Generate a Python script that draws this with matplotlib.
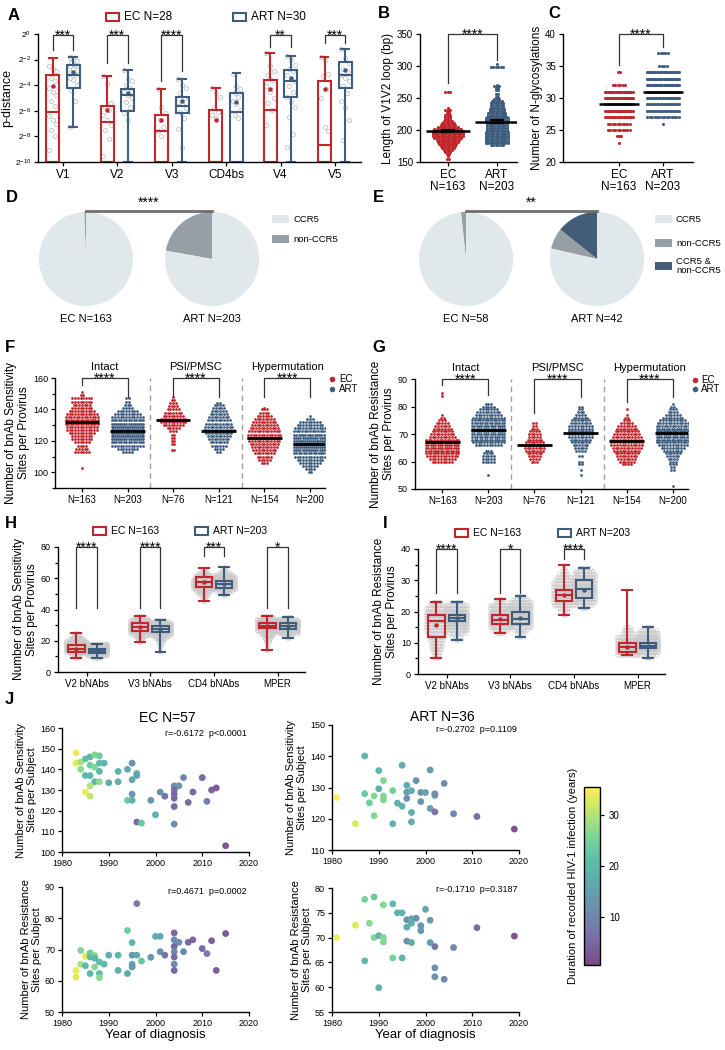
import numpy as np
import matplotlib
matplotlib.use('Agg')
import matplotlib.pyplot as plt
from matplotlib.patches import Rectangle
from matplotlib.lines import Line2D
from matplotlib.colors import ListedColormap, Normalize
from matplotlib.cm import ScalarMappable
from matplotlib.ticker import MultipleLocator, NullLocator

plt.rcParams['font.family'] = ['Liberation Sans', 'DejaVu Sans']
NARROW = ['Liberation Sans Narrow', 'Liberation Sans', 'DejaVu Sans']

EC_RED = '#c0262c'
ART_BLUE = '#3e5d7e'
GREY_PT = '#c9c9c9'

# ---------------- data ----------------
# A: p-distance, stored as log2 exponents
a_regions = ['V1', 'V2', 'V3', 'CD4bs', 'V4', 'V5']
a_ec_lo = [-10, -10, -10, -10, -10, -10]
a_ec_q1 = [-10, -10, -10, -10, -10, -10]
a_ec_med = [-6.1, -6.9, -7.6, -10, -5.9, -8.7]
a_ec_q3 = [-3.2, -5.6, -6.3, -5.9, -3.6, -3.7]
a_ec_hi = [-1.9, -3.25, -4.3, -4.2, -1.5, -1.8]
a_ec_mean = [-4.1, -5.9, -6.7, -6.7, -4.3, -4.3]
a_art_lo = [-7.3, -10, -10, -10, -10, -10]
a_art_q1 = [-4.2, -6.0, -6.15, -10, -4.95, -4.2]
a_art_med = [-3.2, -4.8, -5.6, -6.1, -3.7, -3.2]
a_art_q3 = [-2.4, -4.3, -4.9, -4.6, -2.85, -2.2]
a_art_hi = [-1.8, -2.8, -3.5, -3.06, -1.75, -1.2]
a_art_mean = [-3.0, -4.6, -5.2, -5.3, -3.4, -2.8]
a_ec_pts = [
    [-2.5, -2.7, -2.9, -3.4, -3.7, -4.2, -4.5, -4.8, -5.2, -5.6, -6.4, -6.7, -7.0, -7.5, -8.0, -9.1],
    [-3.25, -3.85, -5.4, -5.7, -5.9, -6.3, -6.7, -7.1, -7.5, -8.2, -9.5],
    [-4.3, -5.7, -6.2, -6.7, -7.3, -7.6, -8.0],
    [-4.2, -4.6, -4.9, -5.7, -6.1, -6.3, -6.6],
    [-1.5, -2.5, -2.9, -3.2, -3.6, -4.1, -4.5, -5.0, -5.4, -5.9, -7.1],
    [-1.8, -2.0, -3.1, -3.3, -4.3, -5.0, -7.3, -7.6],
]
a_art_pts = [
    [-1.8, -2.0, -2.1, -2.2, -2.4, -2.5, -2.7, -2.8, -3.0, -3.2, -3.4, -3.6, -4.0, -4.4, -5.2, -7.3],
    [-2.8, -3.5, -3.7, -4.0, -4.2, -4.5, -4.8, -5.0, -5.3, -5.7, -6.2, -6.7],
    [-3.5, -4.0, -4.2, -4.6, -5.0, -5.3, -5.5, -5.8, -6.1, -6.6, -7.4, -8.8],
    [-3.1, -4.1, -4.3, -4.6, -4.9, -5.2, -5.5, -5.9, -6.3, -6.6],
    [-1.75, -2.0, -2.4, -2.7, -2.9, -3.2, -3.5, -3.7, -4.1, -4.5, -4.9, -5.3, -5.7, -6.5, -7.8, -8.8],
    [-1.2, -1.9, -2.3, -2.7, -2.9, -3.2, -3.4, -3.7, -4.1, -4.6, -5.2, -5.7, -6.7, -8.3],
]
a_stars = ['***', '***', '****', '', '**', '***']
a_leg_ec = [-1.23, -2.3, -3.7, None, -1.0, -0.7]
a_leg_art = [-1.23, -2.3, -2.9, None, -1.0, -0.7]

# B: V1V2 length
b_ec_lv = [154, 160, 163, 166, 169, 172, 175, 178, 181, 184, 187, 190, 193, 196, 199, 202,
           205, 208, 211, 214, 217, 220, 223, 226, 229, 232, 235, 259]
b_ec_n = [2, 1, 2, 3, 4, 6, 7, 8, 9, 10, 12, 13, 13, 14, 14, 12, 9, 7, 6, 4, 3, 3, 3, 2, 2, 3, 1, 3]
b_art_lv = [176, 179, 182, 185, 188, 191, 194, 197, 200, 203, 206, 209, 212, 215, 218, 221, 224,
            227, 230, 233, 236, 239, 242, 245, 248, 251, 256, 262, 265, 268, 271, 298, 303]
b_art_n = [6, 10, 10, 10, 10, 10, 10, 10, 9, 9, 9, 9, 10, 10, 10, 9, 8, 8, 7, 7, 6, 6, 6, 5,
           3, 2, 2, 2, 2, 3, 1, 6, 1]
b_mean = [198, 213]
b_sem = [1.6, 2.0]

# C: N-glycosylations
c_ec_lv = [23, 24, 25, 26, 27, 28, 29, 30, 31, 32, 34]
c_ec_n = [1, 3, 10, 10, 20, 25, 25, 30, 25, 6, 2]
c_art_lv = [26, 27, 28, 29, 30, 31, 32, 33, 34, 35, 37]
c_art_n = [1, 14, 17, 18, 25, 28, 30, 30, 24, 4, 5]
c_mean = [29, 31]

# D / E: coreceptor usage (order: dual, non-CCR5, CCR5)
d_ec = [0, 1, 162]
d_art = [0, 45, 158]
e_ec = [0, 1, 57]
e_art = [6, 3, 33]
pie_colors = ['#435d78', '#969fa5', '#e1e8eb']

# F: sensitivity sites per provirus
f_ticks = ['N=163', 'N=203', 'N=76', 'N=121', 'N=154', 'N=200']
f_lv = [
    [103, 113, 115, 117, 119, 121, 123, 125, 127, 129, 131, 133, 135, 137, 139, 141, 143, 145, 147, 149, 151],
    [113, 115, 117, 119, 121, 123, 125, 127, 129, 131, 133, 135, 137, 139, 141, 143, 145, 147],
    [114, 118, 120, 122, 124, 126, 128, 130, 132, 134, 136, 138, 140, 142, 144, 146, 148],
    [113, 115, 117, 119, 121, 123, 125, 127, 129, 131, 133, 135, 137, 139, 141, 143, 144],
    [106, 108, 110, 112, 114, 116, 118, 120, 122, 124, 126, 128, 130, 132, 134, 136, 138, 140, 141],
    [100, 102, 104, 106, 108, 110, 112, 114, 116, 118, 120, 122, 124, 126, 128, 130, 132, 134, 136],
]
f_n = [
    [1, 6, 5, 4, 6, 8, 8, 10, 12, 12, 14, 14, 13, 12, 10, 8, 7, 8, 8, 2, 1],
    [4, 8, 12, 14, 16, 18, 20, 20, 18, 16, 14, 12, 10, 8, 4, 3, 2, 2],
    [2, 2, 2, 2, 2, 3, 5, 8, 10, 10, 8, 7, 5, 4, 3, 2, 1],
    [2, 4, 6, 7, 8, 9, 10, 12, 11, 10, 9, 8, 7, 6, 5, 4, 2],
    [3, 5, 6, 8, 9, 10, 11, 12, 13, 13, 12, 11, 10, 9, 8, 6, 4, 3, 1],
    [2, 4, 6, 8, 10, 12, 14, 16, 17, 18, 18, 16, 15, 13, 12, 10, 8, 3, 1],
]
f_mean = [132, 126, 133.5, 126.5, 122, 118]

# G: resistance sites per provirus
g_lv = [
    [60, 61, 62, 63, 64, 65, 66, 67, 68, 69, 70, 71, 72, 73, 74, 75, 76, 77, 84, 85],
    [55, 60, 61, 62, 63, 64, 66, 67, 68, 69, 70, 71, 72, 73, 74, 75, 76, 77, 78, 79, 80, 81],
    [60, 61, 62, 63, 64, 65, 66, 67, 68, 69, 70, 71, 72, 73, 74],
    [55, 57, 59, 60, 62, 64, 65, 66, 67, 68, 69, 70, 71, 72, 73, 74, 75, 76, 77, 78, 79, 80],
    [59, 60, 61, 62, 63, 64, 65, 66, 67, 68, 69, 70, 71, 72, 73, 74, 75, 76, 77, 79],
    [51, 57, 58, 59, 60, 61, 62, 63, 64, 65, 66, 67, 68, 69, 70, 71, 72, 73, 74, 75, 76, 77,
     78, 79, 80, 81],
]
g_n = [
    [8, 10, 12, 14, 14, 15, 15, 14, 13, 10, 9, 8, 7, 6, 5, 3, 2, 1, 1, 1],
    [1, 5, 5, 5, 4, 3, 10, 12, 14, 14, 15, 15, 15, 15, 14, 13, 12, 10, 9, 7, 5, 3],
    [3, 4, 5, 6, 7, 8, 9, 7, 6, 5, 5, 4, 3, 2, 2],
    [1, 1, 2, 2, 2, 4, 5, 6, 7, 8, 9, 9, 9, 9, 9, 8, 7, 6, 4, 3, 2, 2],
    [4, 6, 7, 8, 9, 10, 11, 12, 12, 12, 11, 10, 9, 8, 7, 5, 3, 2, 1, 1],
    [1, 2, 2, 3, 3, 4, 5, 6, 7, 9, 11, 13, 14, 15, 15, 15, 14, 13, 12, 10, 8, 6, 4, 3, 2, 1],
]
g_mean = [67, 71.3, 66, 70.3, 67.5, 70.2]

# H / I: box summaries per bnAb class
hi_groups = ['V2 bNAbs', 'V3 bNAbs', 'CD4 bNAbs', 'MPER']
h_ec_lo = [9, 19, 45.6, 14]
h_ec_q1 = [13, 26.4, 54.6, 28]
h_ec_med = [15, 29, 57.8, 29.7]
h_ec_q3 = [17.5, 31.1, 61, 31.6]
h_ec_hi = [25, 36, 66.3, 36]
h_ec_mean = [15, 28.5, 57.5, 29.5]
h_art_lo = [9, 13, 49.3, 21.6]
h_art_q1 = [12, 25.8, 54, 27.7]
h_art_med = [13.5, 27.8, 56.6, 29.5]
h_art_q3 = [15, 29.4, 58.4, 31.1]
h_art_hi = [18, 33.3, 67, 35]
h_art_mean = [13.5, 27.5, 56.5, 29.3]
h_ec_start = [9, 19, 45, 14]
h_ec_cloud = [
    [2, 3, 5, 8, 12, 15, 18, 20, 18, 16, 13, 10, 8, 6, 4, 3, 2],
    [1, 2, 3, 4, 6, 8, 10, 12, 14, 16, 16, 15, 14, 12, 10, 8, 6, 4],
    [1, 2, 2, 3, 4, 5, 6, 8, 10, 12, 14, 14, 13, 12, 11, 10, 9, 8, 6, 4, 3, 2],
    [1, 1, 1, 1, 1, 2, 2, 3, 3, 4, 6, 8, 10, 12, 14, 16, 16, 15, 14, 12, 10, 6, 4],
]
h_art_start = [9, 13, 49, 22]
h_art_cloud = [
    [4, 8, 14, 20, 26, 30, 30, 28, 25, 18],
    [1, 0, 1, 1, 1, 2, 2, 3, 4, 6, 8, 12, 16, 20, 24, 26, 24, 20, 16, 10, 6],
    [2, 3, 5, 8, 12, 16, 20, 22, 22, 20, 18, 15, 12, 9, 7, 5, 3, 2, 1],
    [2, 4, 6, 10, 14, 18, 22, 26, 28, 24, 20, 14, 8, 4],
]
h_stars = ['****', '****', '***', '*']
h_leg = [41, 41, 74, 41]

i_ec_lo = [5, 13, 19, 6]
i_ec_q1 = [12, 16, 23.5, 7.1]
i_ec_med = [17, 17.3, 25.2, 8.7]
i_ec_q3 = [19, 19, 26.9, 9.8]
i_ec_hi = [23, 24, 35, 27]
i_ec_mean = [15.6, 17.5, 25.3, 8.7]
i_art_lo = [11, 12, 21, 5]
i_art_q1 = [17, 16, 24.2, 8.2]
i_art_med = [18, 17.6, 27.3, 9]
i_art_q3 = [19, 19.7, 30, 9.8]
i_art_hi = [23, 25, 34, 15]
i_art_mean = [18, 17.8, 26.8, 9]
i_ec_start = [5, 13, 19, 6]
i_ec_cloud = [
    [2, 3, 4, 5, 6, 6, 7, 8, 9, 10, 11, 12, 13, 14, 15, 14, 12, 8, 4],
    [4, 8, 12, 16, 20, 24, 24, 20, 15, 10, 6, 3],
    [2, 4, 6, 10, 14, 17, 19, 20, 18, 15, 12, 9, 7, 5, 3, 2, 1],
    [10, 20, 28, 32, 28, 20, 12, 6, 4, 3],
]
i_art_start = [11, 12, 21, 5]
i_art_cloud = [
    [3, 5, 8, 12, 16, 20, 26, 30, 28, 22, 15, 10, 6],
    [2, 4, 7, 11, 15, 20, 25, 28, 26, 22, 17, 12, 8, 4],
    [4, 8, 12, 16, 18, 20, 22, 22, 20, 18, 15, 12, 9, 6],
    [3, 8, 15, 25, 35, 38, 32, 22, 14, 8, 3],
]
i_stars = ['****', '*', '****', '']
i_leg = [26, 26, 36.8, None]

# J: per-subject sites vs year of diagnosis, colour = duration (years)
ec_sens_year = [1983, 1983, 1984, 1984, 1985, 1986, 1986, 1987, 1988, 1987, 1988, 1985, 1986, 1987,
                1988, 1986, 1985, 1986, 1989, 1988, 1990, 1992, 1992, 1994, 1995, 1995, 1996, 1996,
                1995, 1994, 1995, 1999, 2001, 2002, 2000, 2004, 2005, 2004, 2004, 2004, 2004, 2006,
                2007, 2008, 2010, 2011, 2012, 2013, 1996, 1997, 2004, 2015]
ec_sens_val = [148, 143, 143.5, 140, 145, 146, 142, 147, 146.5, 141, 139, 137, 137, 134, 134, 132,
               129, 127, 143, 143, 133.5, 139, 134, 140, 143, 135, 138, 137, 128, 125, 125, 125,
               129, 127, 118, 132, 132, 130, 128, 126, 122, 136, 124, 129, 136, 124.5, 130, 131,
               114.5, 114, 113.5, 103]
ec_sens_dur = [34, 33, 29, 27, 22, 20, 24, 26, 24, 26, 20, 20, 20, 19, 27, 30, 34, 31, 20, 20, 17,
               19, 18, 17, 13, 17, 17, 16, 13, 24, 19, 13, 12, 7, 18, 11, 12, 5, 5, 5, 5, 10, 6, 5,
               5, 8, 4, 4, 6, 23, 11, 3]
ec_res_year = [1983, 1983, 1984, 1984, 1985, 1985, 1986, 1986, 1986, 1987, 1987, 1987, 1988, 1988,
               1988, 1989, 1990, 1992, 1992, 1994, 1994, 1995, 1995, 1995, 1995, 1996, 1996, 1997,
               1999, 2000, 2001, 2001, 2002, 2004, 2004, 2005, 2004, 2004, 2004, 2004, 2004, 2006,
               2007, 2008, 2010, 2011, 2012, 2013, 2015]
ec_res_val = [63.3, 61.2, 69.7, 65.3, 67.8, 64.8, 68.9, 67.6, 62.3, 68.1, 67.2, 64.4, 66, 62.3, 61,
              65.3, 68.2, 68.2, 63.3, 76.1, 62.3, 72.2, 68.2, 65.3, 64.4, 84.7, 68.2, 66.3, 67.5,
              74.2, 74.2, 69.3, 68.2, 75.3, 73.1, 72.3, 71, 69.3, 67.6, 65.3, 63.3, 69.3, 72.3,
              73.1, 70.3, 68.7, 72.8, 63.3, 75.1]
ec_res_dur = [34, 33, 26, 29, 34, 20, 24, 20, 20, 27, 19, 27, 20, 20, 27, 20, 17, 19, 18, 24, 17,
              19, 13, 17, 13, 8, 17, 23, 13, 18, 17, 12, 7, 5, 11, 12, 5, 11, 5, 11, 5, 10, 6, 5, 5,
              8, 4, 4, 3]
art_sens_year = [1987, 1990, 1995, 2001, 1991, 1998, 2004, 1996, 1990, 1993, 1987, 1989, 1991,
                 1991, 1988, 1994, 1995, 1996, 1999, 2000, 2002, 2002, 1996, 1999, 2001, 2002,
                 2006, 2011, 1989, 1997, 1985, 1993, 1997, 2019, 1981, 1997]
art_sens_val = [140.1, 135.4, 137.1, 135.6, 132.2, 132.2, 131.3, 130.7, 129.6, 129, 128, 127.3,
                127.3, 126, 125.1, 125, 124, 128.5, 128.4, 128.4, 128, 127.5, 126.5, 125.5, 123.3,
                122.2, 121.6, 120.7, 121, 122, 118.4, 118.4, 119, 116.7, 126.8, 129]
art_sens_dur = [20, 19, 18, 14, 26, 12, 11, 17, 19, 25, 23, 26, 26, 26, 24, 19, 19, 14, 12, 16, 12,
                12, 12, 13, 14, 7, 10, 6, 26, 18, 33, 19, 17, 2, 35, 17]
art_res_year = [1981, 1985, 1988, 1989, 1990, 1991, 1991, 1987, 1993, 1995, 1990, 1996, 1996, 1997,
                1996, 1997, 1997, 1998, 1999, 1999, 2001, 2001, 2002, 2002, 2002, 2004, 2006, 2011,
                2019, 1987, 1989, 1991, 1993, 1994, 1995, 2000]
art_res_val = [70, 72.5, 72.9, 70, 70.4, 70, 69.1, 65.3, 65.9, 65.9, 59.9, 72.1, 69.3, 69, 73.6,
               73.8, 72.9, 73.9, 72.4, 71.4, 73.5, 69, 68.2, 63.9, 62.1, 61.6, 68, 72, 70.3, 77.7,
               78.2, 76.6, 76.8, 75, 75, 75.7]
art_res_dur = [35, 33, 27, 26, 19, 26, 26, 20, 25, 19, 19, 17, 12, 17, 12, 17, 18, 12, 13, 13, 14,
               14, 7, 12, 12, 11, 10, 6, 2, 25, 23, 26, 20, 19, 19, 16]

# ---------------- figure ----------------
W, H = 725, 1050
fig = plt.figure(figsize=(7.25, 10.5), dpi=100)


def add_ax(l, t, r, b):
    return fig.add_axes([l / W, 1 - b / H, (r - l) / W, (b - t) / H])


def style(ax, ls=7):
    for s in ['top', 'right']:
        ax.spines[s].set_visible(False)
    for s in ['left', 'bottom']:
        ax.spines[s].set_linewidth(1)
    ax.tick_params(direction='out', length=3, width=0.9, labelsize=ls, pad=2)


def swarm(ax, x0, levels, counts, color, step, maxw, ms, hollow=False):
    xs, ys = [], []
    for lv, n in zip(levels, counts):
        if n <= 0:
            continue
        dx = min(step, maxw / max(n - 1, 1))
        xs.extend(x0 + (np.arange(n) - (n - 1) / 2) * dx)
        ys.extend([lv] * n)
    if hollow:
        ax.plot(xs, ys, 'o', ms=ms, mfc='none', mec=GREY_PT, mew=0.5, zorder=1)
    else:
        ax.plot(xs, ys, 'o', ms=ms, color=color, mec='none', zorder=2)


def bracket(ax, x1, x2, top, y1, y2, stars, fs=10):
    if y1 is None:
        return
    ax.plot([x1, x1, x2, x2], [y1, top, top, y2], color='#333333', lw=0.9,
            clip_on=False, zorder=4)
    ax.annotate(stars, xy=((x1 + x2) / 2, top), xytext=(0, -3.5), textcoords='offset points',
                ha='center', va='baseline', fontsize=fs, annotation_clip=False)


def leg_box(x, y, color, label, fs):
    fig.add_artist(Rectangle((x / W, 1 - (y + 4) / H), 13 / W, 8 / H, transform=fig.transFigure,
                             fill=False, edgecolor=color, lw=1.5))
    fig.text((x + 18) / W, 1 - y / H, label, fontsize=fs, va='center')


def boxes(ax, pos, lo, q1, med, q3, hi, mean, color, width, mscale=None):
    f = mscale if mscale else (lambda v: v)
    stats = [dict(whislo=f(a), q1=f(b), med=f(c), q3=f(d), whishi=f(e), mean=f(m), fliers=[])
             for a, b, c, d, e, m in zip(lo, q1, med, q3, hi, mean)]
    ax.bxp(stats, positions=pos, widths=width, showmeans=True, patch_artist=True,
           manage_ticks=False, capwidths=width * 0.6,
           boxprops=dict(facecolor='none', edgecolor=color, lw=1.5),
           whiskerprops=dict(color=color, lw=1.5), capprops=dict(color=color, lw=1.5),
           medianprops=dict(color=color, lw=1.5),
           meanprops=dict(marker='o', ms=2.2, mfc=color, mec=color))


def letter(x, y, s):
    fig.text(x / W, 1 - y / H, s, fontsize=12, fontweight='bold', va='center', ha='left')


# ----- A -----
ax = add_ax(38, 34, 361, 162)
style(ax, 8.5)
x = np.arange(len(a_regions))
offs = [-0.07, 0.0, 0.07, -0.035, 0.035]
for i in x:
    for j, v in enumerate(a_ec_pts[i]):
        ax.plot(i - 0.19 + offs[j % 5], 2.0 ** v, 'o', ms=3, mfc='none', mec=GREY_PT, mew=0.7)
    for j, v in enumerate(a_art_pts[i]):
        ax.plot(i + 0.19 + offs[j % 5], 2.0 ** v, 'o', ms=3, mfc='none', mec=GREY_PT, mew=0.7)
p2 = lambda v: 2.0 ** v
boxes(ax, x - 0.19, a_ec_lo, a_ec_q1, a_ec_med, a_ec_q3, a_ec_hi, a_ec_mean, EC_RED, 0.24, p2)
boxes(ax, x + 0.19, a_art_lo, a_art_q1, a_art_med, a_art_q3, a_art_hi, a_art_mean, ART_BLUE, 0.24, p2)
ax.set_yscale('log', base=2)
ax.set_ylim(2.0 ** -10, 1)
ax.set_yticks([2.0 ** k for k in [-10, -8, -6, -4, -2, 0]])
ax.yaxis.set_minor_locator(NullLocator())
ax.tick_params(axis='y', labelsize=6)
ax.set_xlim(-0.46, 5.48)
ax.set_xticks(x)
ax.set_xticklabels(a_regions)
ax.set_ylabel('p-distance', fontsize=9, labelpad=1)
for i in x:
    if a_leg_ec[i] is not None:
        bracket(ax, i - 0.19, i + 0.19, 2.0 ** -0.05, 2.0 ** a_leg_ec[i], 2.0 ** a_leg_art[i],
                a_stars[i])
leg_box(106, 17, EC_RED, 'EC N=28', 8.5)
leg_box(233, 17, ART_BLUE, 'ART N=30', 8.5)
letter(8, 15, 'A')

# ----- B -----
ax = add_ax(420, 34, 517, 162)
style(ax, 7)
swarm(ax, 0, b_ec_lv, b_ec_n, EC_RED, 0.05, 0.62, 2.2)
swarm(ax, 1, b_art_lv, b_art_n, ART_BLUE, 0.05, 0.62, 2.2)
for k in range(2):
    ax.hlines(b_mean[k], k - 0.45, k + 0.45, color='k', lw=1.8, zorder=3)
    ax.errorbar(k, b_mean[k], yerr=b_sem[k], color='k', lw=1.5, capsize=5, capthick=1.5, zorder=3)
ax.set_xlim(-0.57, 1.41)
ax.set_ylim(150, 350)
ax.set_yticks([150, 200, 250, 300, 350])
ax.set_xticks([0, 1])
ax.set_xticklabels(['EC\nN=163', 'ART\nN=203'], fontsize=8.5, linespacing=1.0)
ax.set_ylabel('Length of V1V2 loop (bp)', fontsize=8.5, labelpad=2)
bracket(ax, 0, 1, 350, 273, 310, '****')
letter(378, 14, 'B')

# ----- C -----
ax = add_ax(563, 34, 693, 162)
style(ax, 7)
swarm(ax, 0, c_ec_lv, c_ec_n, EC_RED, 0.055, 0.62, 2.2)
swarm(ax, 1, c_art_lv, c_art_n, ART_BLUE, 0.055, 0.72, 2.2)
for k in range(2):
    ax.hlines(c_mean[k], k - 0.45, k + 0.45, color='k', lw=1.8, zorder=3)
ax.set_xlim(-1.27, 1.68)
ax.set_ylim(20, 40)
ax.set_yticks([20, 25, 30, 35, 40])
ax.set_xticks([0, 1])
ax.set_xticklabels(['EC\nN=163', 'ART\nN=203'], fontsize=8.5, linespacing=1.0)
ax.set_ylabel('Number of N-glycosylations', fontsize=8.5, labelpad=2)
bracket(ax, 0, 1, 40, 35.2, 38, '****')
letter(548, 14, 'C')

# ----- D / E -----
def pie(cx, cy, vals, d=96):
    pa = add_ax(cx - d / 2, cy - d / 2, cx + d / 2, cy + d / 2)
    pa.pie(vals, colors=pie_colors, startangle=90, counterclock=True,
           wedgeprops=dict(linewidth=0))
    pa.set_xlim(-1.02, 1.02)
    pa.set_ylim(-1.02, 1.02)


pie(86, 259, d_ec)
pie(212, 259, d_art)
pie(466, 259, e_ec)
pie(597, 259, e_art)
for x1, x2, s in [(86, 212, '****'), (466, 597, '**')]:
    fig.add_artist(Line2D([x1 / W, x2 / W], [1 - 211 / H] * 2, color='#6f6f6f', lw=2))
    fig.text((x1 + x2) / 2 / W, 1 - 203 / H, s, ha='center', va='center', fontsize=10)
for cx, lab in [(86, 'EC N=163'), (212, 'ART N=203'), (466, 'EC N=58'), (597, 'ART N=42')]:
    fig.text(cx / W, 1 - 319 / H, lab, ha='center', va='center', fontsize=8, family=NARROW)


def pie_leg(x, y, color, label):
    fig.add_artist(Rectangle((x / W, 1 - (y + 4) / H), 17 / W, 8 / H, transform=fig.transFigure,
                             facecolor=color, edgecolor='none'))
    fig.text((x + 21) / W, 1 - y / H, label, fontsize=6.8, va='center', family=NARROW,
             linespacing=1.1)


pie_leg(272, 219, pie_colors[2], 'CCR5')
pie_leg(272, 239, pie_colors[1], 'non-CCR5')
pie_leg(655, 219, pie_colors[2], 'CCR5')
pie_leg(655, 243, pie_colors[1], 'non-CCR5')
pie_leg(655, 266, pie_colors[0], 'CCR5 &\nnon-CCR5')
letter(6, 197, 'D')
letter(373, 197, 'E')


# ----- F / G -----
def strip_panel(ax, lvs, ns, means, ylim, yt, ylabel, legs, top):
    style(ax, 6.5)
    for k in range(6):
        col = EC_RED if k % 2 == 0 else ART_BLUE
        swarm(ax, k, lvs[k], ns[k], col, 0.06, 0.7, 2.0)
        ax.hlines(means[k], k - 0.38, k + 0.38, color='k', lw=2, zorder=3)
    for xv in [1.5, 3.5]:
        ax.axvline(xv, color='#a0a0a0', lw=1, ls=(0, (4, 3)))
    ax.set_xlim(-0.59, 5.33)
    ax.set_ylim(*ylim)
    ax.set_yticks(yt)
    ax.set_xticks(range(6))
    ax.set_xticklabels(f_ticks, fontsize=7)
    ax.set_ylabel(ylabel, fontsize=8.5, labelpad=2, linespacing=1.1)
    for k, name in enumerate(['Intact', 'PSI/PMSC', 'Hypermutation']):
        ax.annotate(name, xy=(2 * k + 0.5, 1), xycoords=('data', 'axes fraction'),
                    xytext=(0, 8), textcoords='offset points', ha='center', va='center',
                    fontsize=8)
        bracket(ax, 2 * k, 2 * k + 1, top, legs[k][0], legs[k][1], '****')


ax = add_ax(55, 378, 325, 488)
strip_panel(ax, f_lv, f_n, f_mean, (90, 160), [100, 120, 140, 160],
            'Number of bnAb Sensitivity\nSites per Provirus',
            [(155.5, 148), (148, 148), (148, 148)], 160)
ax.yaxis.set_minor_locator(MultipleLocator(10))
ax.tick_params(axis='y', which='minor', length=2, width=0.9)
letter(5, 347, 'F')
for yy, col, lab in [(379, EC_RED, 'EC'), (389, ART_BLUE, 'ART')]:
    fig.add_artist(Line2D([332 / W], [1 - yy / H], marker='o', ms=4, color=col, mec='none'))
    fig.text(339 / W, 1 - yy / H, lab, fontsize=7, va='center')

ax = add_ax(415, 379, 688, 489)
strip_panel(ax, g_lv, g_n, g_mean, (50, 90), [50, 60, 70, 80, 90],
            'Number of bnAb Resistance\nSites per Provirus',
            [(87.8, 84.2), (77.6, 83.6), (81.7, 83.6)], 90)
letter(372, 347, 'G')
for yy, col, lab in [(380, EC_RED, 'EC'), (389, ART_BLUE, 'ART')]:
    fig.add_artist(Line2D([695 / W], [1 - yy / H], marker='o', ms=4, color=col, mec='none'))
    fig.text(701 / W, 1 - yy / H, lab, fontsize=7, va='center')


# ----- H / I -----
def box_panel(ax, ec, art, ec_start, ec_cloud, art_start, art_cloud, ylim, yt, minor, ylabel,
              top, legs, stars):
    style(ax, 6.5)
    x = np.arange(4)
    for k in x:
        swarm(ax, k - 0.16, np.arange(ec_start[k], ec_start[k] + len(ec_cloud[k])), ec_cloud[k],
              GREY_PT, 0.035, 0.33, 2.6, hollow=True)
        swarm(ax, k + 0.16, np.arange(art_start[k], art_start[k] + len(art_cloud[k])),
              art_cloud[k], GREY_PT, 0.035, 0.33, 2.6, hollow=True)
    boxes(ax, x - 0.16, *ec, EC_RED, 0.26)
    boxes(ax, x + 0.16, *art, ART_BLUE, 0.26)
    ax.set_xlim(-0.45, 3.43)
    ax.set_ylim(*ylim)
    ax.set_yticks(yt)
    ax.yaxis.set_minor_locator(MultipleLocator(minor))
    ax.tick_params(axis='y', which='minor', length=2, width=0.9)
    ax.set_xticks(x)
    ax.set_xticklabels(hi_groups, fontsize=7)
    ax.set_ylabel(ylabel, fontsize=8.5, labelpad=2, linespacing=1.1)
    for k in x:
        bracket(ax, k - 0.16, k + 0.16, top, legs[k], legs[k], stars[k])


ax = add_ax(58, 547, 305, 672)
box_panel(ax, (h_ec_lo, h_ec_q1, h_ec_med, h_ec_q3, h_ec_hi, h_ec_mean),
          (h_art_lo, h_art_q1, h_art_med, h_art_q3, h_art_hi, h_art_mean),
          h_ec_start, h_ec_cloud, h_art_start, h_art_cloud, (0, 80), [0, 20, 40, 60, 80], 10,
          'Number of bnAb Sensitivity\nSites per Provirus', 80, h_leg, h_stars)
leg_box(93, 531, EC_RED, 'EC N=163', 7.5)
leg_box(195, 531, ART_BLUE, 'ART N=203', 7.5)
letter(5, 523, 'H')

ax = add_ax(418, 549, 665, 674)
box_panel(ax, (i_ec_lo, i_ec_q1, i_ec_med, i_ec_q3, i_ec_hi, i_ec_mean),
          (i_art_lo, i_art_q1, i_art_med, i_art_q3, i_art_hi, i_art_mean),
          i_ec_start, i_ec_cloud, i_art_start, i_art_cloud, (0, 40), [0, 10, 20, 30, 40], 5,
          'Number of bnAb Resistance\nSites per Provirus', 40, i_leg, i_stars)
leg_box(455, 533, EC_RED, 'EC N=163', 7.5)
leg_box(558, 533, ART_BLUE, 'ART N=203', 7.5)
letter(383, 523, 'I')

# ----- J -----
base = plt.get_cmap('viridis')(np.linspace(0, 1, 256))
base[:, :3] = base[:, :3] * 0.72 + 0.28
soft = ListedColormap(base)
norm = Normalize(0.6, 35.5)


def scat(ax, xs, ys, cs, ylim, yt, ylabel, xlabel=None):
    style(ax, 6.5)
    ax.scatter(xs, ys, c=cs, cmap=soft, norm=norm, s=24, edgecolors='none', zorder=3,
               clip_on=False)
    ax.set_xlim(1980, 2020)
    ax.set_xticks([1980, 1990, 2000, 2010, 2020])
    ax.set_ylim(*ylim)
    ax.set_yticks(yt)
    ax.set_ylabel(ylabel, fontsize=8, labelpad=2, linespacing=1.1)
    if xlabel:
        ax.set_xlabel(xlabel, fontsize=9.5, labelpad=1)


ax = add_ax(62, 728, 249, 852)
scat(ax, ec_sens_year, ec_sens_val, ec_sens_dur, (100, 160), range(100, 161, 10),
     'Number of bnAb Sensitivity\nSites per Subject')
ax = add_ax(62, 887, 249, 1012)
scat(ax, ec_res_year, ec_res_val, ec_res_dur, (50, 90), range(50, 91, 10),
     'Number of bnAb Resistance\nSites per Subject', 'Year of diagnosis')
ax = add_ax(332, 725, 519, 850)
scat(ax, art_sens_year, art_sens_val, art_sens_dur, (110, 150), range(110, 151, 10),
     'Number of bnAb Sensitivity\nSites per Subject')
ax = add_ax(332, 888, 519, 1012)
scat(ax, art_res_year, art_res_val, art_res_dur, (55, 80), range(55, 81, 5),
     'Number of bnAb Resistance\nSites per Subject', 'Year of diagnosis')

fig.text(167 / W, 1 - 718 / H, 'EC N=57', fontsize=10, ha='center', va='center')
fig.text(442 / W, 1 - 717 / H, 'ART N=36', fontsize=10, ha='center', va='center')
for xr, yr, s in [(247, 733, 'r=-0.6172  p<0.0001'), (247, 891, 'r=0.4671  p=0.0002'),
                  (517, 729, 'r=-0.2702  p=0.1109'), (517, 889, 'r=-0.1710  p=0.3187')]:
    fig.text(xr / W, 1 - yr / H, s, fontsize=6.5, ha='right', va='center')
letter(5, 700, 'J')

cax = add_ax(584, 787, 600, 965)
cb = fig.colorbar(ScalarMappable(norm=norm, cmap=soft), cax=cax)
cb.set_ticks([10, 20, 30])
cb.outline.set_linewidth(1)
cax.tick_params(labelsize=7, length=3, width=0.9)
cax.yaxis.set_label_position('left')
cb.set_label('Duration of recorded HIV-1 infection (years)', fontsize=8, labelpad=4)

fig.savefig('out.png', dpi=100)
